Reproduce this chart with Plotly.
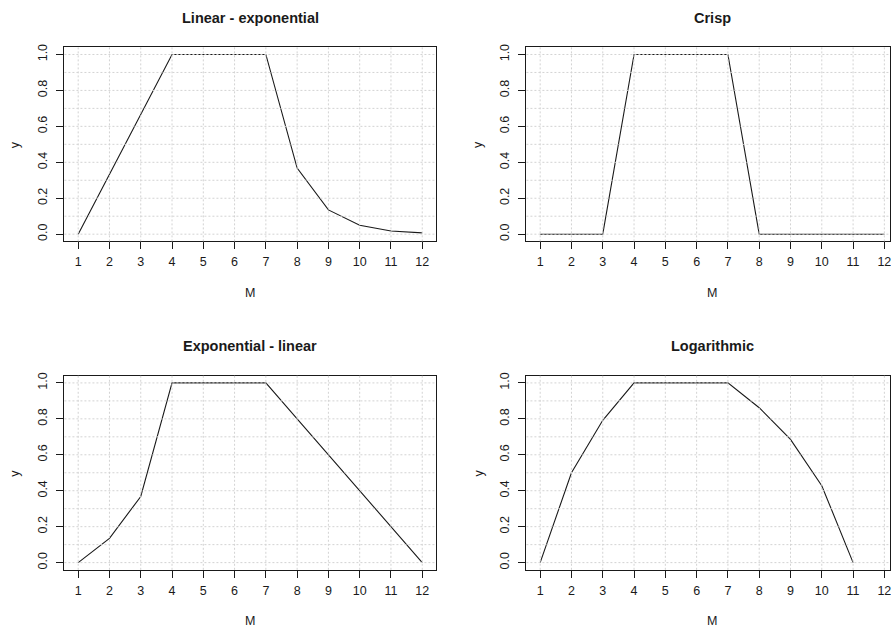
import plotly.graph_objects as go

# Membership functions evaluated at M = 1..12
months = list(range(1, 13))
linear_exponential = [0, 0.333, 0.667, 1, 1, 1, 1, 0.368, 0.135, 0.05, 0.018, 0.007]
crisp = [0, 0, 0, 1, 1, 1, 1, 0, 0, 0, 0, 0]
exponential_linear = [0, 0.135, 0.368, 1, 1, 1, 1, 0.8, 0.6, 0.4, 0.2, 0]
logarithmic = [0, 0.5, 0.792, 1, 1, 1, 1, 0.862, 0.686, 0.428, 0, None]

panel_titles = ["Linear - exponential", "Crisp", "Exponential - linear", "Logarithmic"]
panel_series = [linear_exponential, crisp, exponential_linear, logarithmic]

y_tick_vals = [0, 0.2, 0.4, 0.6, 0.8, 1.0]
y_tick_text = ["0.0", "0.2", "0.4", "0.6", "0.8", "1.0"]
x_grid = months
y_grid = [i / 10 for i in range(11)]

W, H = 891, 631
FONT = "Liberation Sans, Arial, Helvetica, sans-serif"
INK = "#1a1a1a"

# plot boxes in pixels: (left, right, top, bottom)
boxes = [
    (64.5, 436.5, 44.5, 239.5),
    (527.0, 891.0, 44.5, 239.5),
    (64.5, 436.5, 374.5, 569.5),
    (527.0, 891.0, 374.5, 569.5),
]
x_ranges = [[0.56, 12.44], [0.56, 12.18], [0.56, 12.44], [0.56, 12.18]]
label_y = [142, 142, 472, 472]
label_y_x = [15, 479.3, 15, 479.3]
title_y = [15, 15, 345, 345]
m_y = [291, 291, 621, 621]
title_x = [250.5, 713, 250.5, 713]

fig = go.Figure()
layout = dict(
    width=W, height=H, autosize=False,
    margin=dict(l=0, r=0, t=0, b=0),
    paper_bgcolor="white", plot_bgcolor="white",
    showlegend=False,
    font=dict(family=FONT, color=INK, size=12.5),
)
annotations = []
shapes = []

for i, (title, ys) in enumerate(zip(panel_titles, panel_series)):
    n = "" if i == 0 else str(i + 1)
    xa, ya = "x" + n, "y" + n
    left, right, top, bottom = boxes[i]
    fig.add_trace(go.Scatter(
        x=months, y=ys, mode="lines", xaxis=xa, yaxis=ya,
        line=dict(color=INK, width=1.1), connectgaps=False, hoverinfo="skip",
    ))
    layout["xaxis" + n] = dict(
        domain=[left / W, right / W], range=x_ranges[i], anchor=ya,
        tickvals=months, ticktext=[str(m) for m in months],
        ticks="outside", ticklen=7, tickcolor=INK, tickwidth=1,
        showline=True, linecolor=INK, linewidth=1, mirror=True,
        showgrid=False, zeroline=False,
        tickfont=dict(family=FONT, size=12.5, color=INK),
        ticklabelstandoff=2, ticklabeloverflow="allow",
    )
    layout["yaxis" + n] = dict(
        domain=[1 - bottom / H, 1 - top / H], range=[-0.04, 1.04], anchor=xa,
        tickvals=y_tick_vals, ticktext=y_tick_text, tickangle=-90,
        ticks="outside", ticklen=7, tickcolor=INK, tickwidth=1,
        showline=True, linecolor=INK, linewidth=1, mirror=True,
        showgrid=False, zeroline=False,
        tickfont=dict(family=FONT, size=12.5, color=INK),
        ticklabelstandoff=4,
    )
    # dotted reference grid drawn over the curves
    for gx in x_grid:
        shapes.append(dict(type="line", layer="above", xref=xa, yref=ya + " domain",
                           x0=gx, x1=gx, y0=0, y1=1,
                           line=dict(color="#d3d3d3", width=1, dash="2px,2px")))
    for gy in y_grid:
        shapes.append(dict(type="line", layer="above", xref=xa + " domain", yref=ya,
                           x0=0, x1=1, y0=gy, y1=gy,
                           line=dict(color="#d3d3d3", width=1, dash="2px,2px")))
    annotations.append(dict(text="<b>" + title + "</b>", xref="paper", yref="paper",
                            x=title_x[i] / W, y=1 - title_y[i] / H, showarrow=False,
                            xanchor="center", yanchor="middle",
                            font=dict(family=FONT, size=14.5, color=INK)))
    annotations.append(dict(text="M", xref="paper", yref="paper",
                            x=title_x[i] / W, y=1 - m_y[i] / H, showarrow=False,
                            xanchor="center", yanchor="middle",
                            font=dict(family=FONT, size=12.5, color=INK)))
    annotations.append(dict(text="y", xref="paper", yref="paper", textangle=-90,
                            x=label_y_x[i] / W, y=1 - label_y[i] / H, showarrow=False,
                            xanchor="center", yanchor="middle",
                            font=dict(family=FONT, size=12.5, color=INK)))

layout["annotations"] = annotations
layout["shapes"] = shapes
fig.update_layout(**layout)
fig.write_html("out.html")
